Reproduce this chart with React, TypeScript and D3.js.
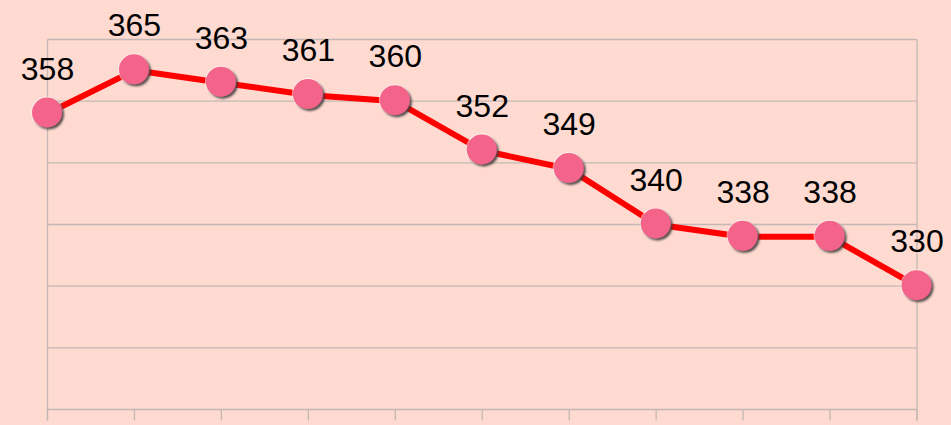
import React from "react";
import * as d3 from "d3";

const categories = ["1", "2", "3", "4", "5", "6", "7", "8", "9", "10", "11"];
const values = [358, 365, 363, 361, 360, 352, 349, 340, 338, 338, 330];
const yTicks = [310, 320, 330, 340, 350, 360, 370];

const W = 951;
const H = 425;
const left = 47.5;
const right = 917;
const top = 39.5;
const bottom = 409.5;

export default function App() {
  const x = d3.scalePoint<string>().domain(categories).range([left, right]);
  const y = d3.scaleLinear().domain([310, 370]).range([bottom, top]);
  const line = d3
    .line<number>()
    .x((_, i) => x(categories[i]) as number)
    .y((d) => y(d));
  const grid = "#c4b8b4";
  return (
    <svg
      width={W}
      height={H}
      style={{ position: "absolute", left: 0, top: 0, background: "#ffdad0" }}
    >
      <defs>
        <filter id="sh" x="-50%" y="-50%" width="200%" height="200%">
          <feGaussianBlur in="SourceAlpha" stdDeviation="1.2" result="b" />
          <feOffset in="b" dx="1.8" dy="2" result="o" />
          <feFlood floodColor="#333" floodOpacity="0.85" />
          <feComposite in2="o" operator="in" result="s" />
          <feMerge>
            <feMergeNode in="s" />
            <feMergeNode in="SourceGraphic" />
          </feMerge>
        </filter>
      </defs>
      <rect x={0} y={0} width={W} height={H} fill="#ffdad0" />
      {yTicks.map((t) => (
        <line
          key={t}
          x1={left}
          x2={right}
          y1={y(t)}
          y2={y(t)}
          stroke={grid}
          strokeWidth={1.3}
        />
      ))}
      <line x1={left} x2={left} y1={top} y2={bottom + 11} stroke={grid} strokeWidth={1.3} />
      <line x1={right} x2={right} y1={top} y2={bottom + 11} stroke={grid} strokeWidth={1.3} />
      {categories.map((c) => (
        <line
          key={c}
          x1={x(c)}
          x2={x(c)}
          y1={bottom}
          y2={bottom + 11}
          stroke={grid}
          strokeWidth={1.3}
        />
      ))}
      <path d={line(values) || ""} fill="none" stroke="#ff0000" strokeWidth={6} strokeLinejoin="round" />
      {values.map((v, i) => (
        <g key={i}>
          <circle
            cx={x(categories[i]) - 0.5}
            cy={y(v) - 1}
            r={16}
            fill="#ffffff"
            opacity={0.55}
          />
          <circle
            cx={x(categories[i]) - 0.5}
            cy={y(v) - 1}
            r={15}
            fill="#f4648a"
            filter="url(#sh)"
          />
        </g>
      ))}
      {values.map((v, i) => (
        <text
          key={"t" + i}
          x={x(categories[i])}
          y={y(v) - 34}
          textAnchor="middle"
          fontFamily="Liberation Sans, Arial, sans-serif"
          fontSize={32}
          fill="#000"
        >
          {v}
        </text>
      ))}
    </svg>
  );
}
